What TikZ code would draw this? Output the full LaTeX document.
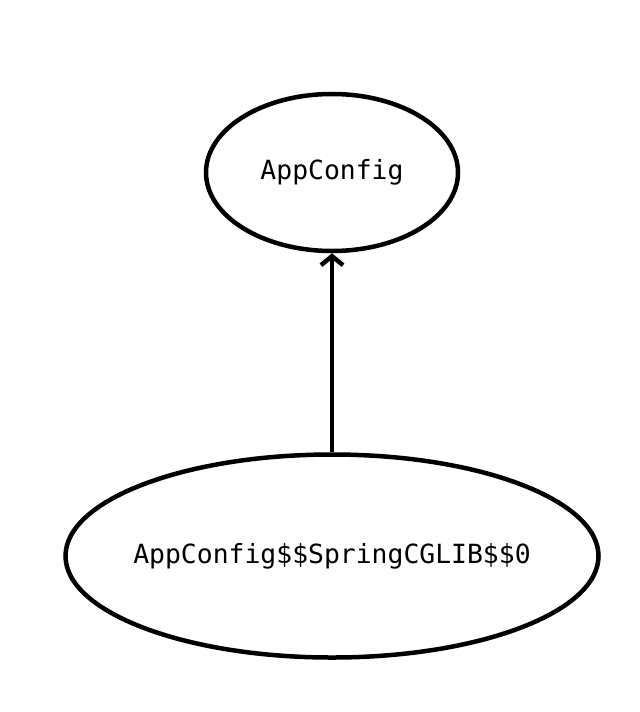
\documentclass[tikz,border=0pt]{standalone}
\usepackage{fontspec}
\setmonofont{DejaVu Sans Mono}
\usetikzlibrary{arrows.meta,positioning,shapes.geometric}

\tikzset{
    classnode/.style={ellipse, draw, line width=4.5bp, inner sep=0pt,
        font=\ttfamily\fontsize{26.5}{30}\selectfont},
    extendsarrow/.style={line width=4.5bp, -{Straight Barb[length=9bp,width=22bp,line width=4.5bp]}}
}

\begin{document}
\begin{tikzpicture}[x=1bp, y=-1bp]
    \useasboundingbox (0,0) rectangle (640,712);

    % parent class
    \node[classnode, minimum width=252bp, minimum height=157bp] (appcfg) at (332,172.5) {AppConfig};

    % CGLIB proxy class
    \node[classnode, minimum width=533bp, minimum height=203bp, below=199bp of appcfg] (proxy) {\makebox[0pt]{AppConfig\$\$SpringCGLIB\$\$0}};

    % inheritance
    \draw[extendsarrow] (proxy) -- (appcfg);
\end{tikzpicture}
\end{document}
